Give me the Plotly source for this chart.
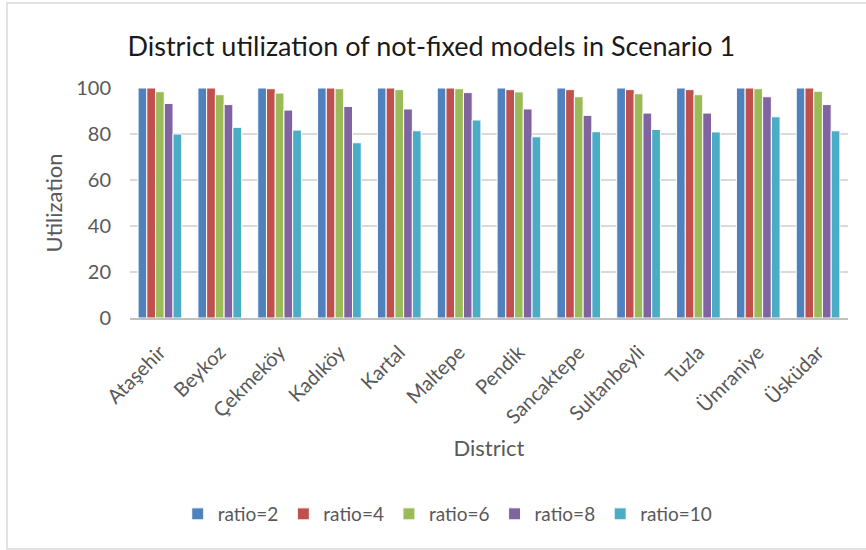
import plotly.graph_objects as go

districts = ["Ataşehir", "Beykoz", "Çekmeköy", "Kadıköy", "Kartal", "Maltepe",
             "Pendik", "Sancaktepe", "Sultanbeyli", "Tuzla", "Ümraniye", "Üsküdar"]

ratio2 = [100, 100, 100, 100, 100, 100, 100, 100, 100, 100, 100, 100]
ratio4 = [100, 100, 99.7, 100, 100, 100, 99.3, 99.3, 99.3, 99.3, 100, 100]
ratio6 = [98.4, 97.1, 97.8, 99.7, 99.3, 99.7, 98.3, 96.2, 97.5, 97.1, 99.7, 98.6]
ratio8 = [93.3, 92.8, 90.4, 92.0, 90.9, 98.0, 90.9, 88.1, 89.1, 89.1, 96.2, 92.8]
ratio10 = [80.0, 82.9, 81.7, 76.2, 81.4, 86.1, 78.8, 81.0, 82.0, 80.9, 87.5, 81.4]

series = [
    ("ratio=2", ratio2, "#4F81BD"),
    ("ratio=4", ratio4, "#C0504D"),
    ("ratio=6", ratio6, "#9BBB59"),
    ("ratio=8", ratio8, "#8064A2"),
    ("ratio=10", ratio10, "#4BACC6"),
]

FONT = "Lato, Liberation Sans, sans-serif"
GREY = "#595959"

fig = go.Figure()
for name, vals, col in series:
    fig.add_trace(go.Bar(x=districts, y=vals, name=name,
                         marker=dict(color=col, line=dict(color="white", width=1))))

fig.update_layout(
    width=866, height=550,
    margin=dict(l=130, r=18, t=88, b=232),
    paper_bgcolor="white", plot_bgcolor="white",
    barmode="group", bargap=0.27, bargroupgap=0,
    font=dict(family=FONT, color=GREY, size=20),
    title=dict(text="District utilization of not-fixed models in Scenario 1",
               x=0.498, xanchor="center", y=1 - 47 / 550, yanchor="middle",
               font=dict(family=FONT, size=27, color="#1a1a1a")),
    legend=dict(orientation="h", xref="container", yref="container",
                x=0.517, xanchor="center", y=1 - 514 / 550, yanchor="middle",
                font=dict(size=19, color=GREY), itemwidth=30, traceorder="normal"),
    showlegend=True,
)
fig.update_xaxes(tickangle=-45, showline=True, linecolor="#BFBFBF", linewidth=1.5,
                 ticks="", tickfont=dict(size=20, color=GREY), ticklabelstandoff=13,
                 automargin=False,
                 title=dict(text="District", font=dict(size=22, color=GREY), standoff=14))
fig.update_yaxes(range=[0, 100], dtick=20, showgrid=True, gridcolor="#D9D9D9",
                 gridwidth=1.5, zeroline=False, ticks="", automargin=False,
                 tickfont=dict(size=20, color=GREY), ticklabelstandoff=18,
                 title=dict(text="Utilization", font=dict(size=22, color=GREY), standoff=7))

fig.add_shape(type="rect", xref="paper", yref="paper",
              x0=(7 - 130) / 718, x1=(870 - 130) / 718,
              y0=(318 - 549) / 230, y1=(318 - 3) / 230,
              line=dict(color="#D9D9D9", width=1.5), fillcolor="rgba(0,0,0,0)",
              layer="below")

fig.write_html("out.html")
